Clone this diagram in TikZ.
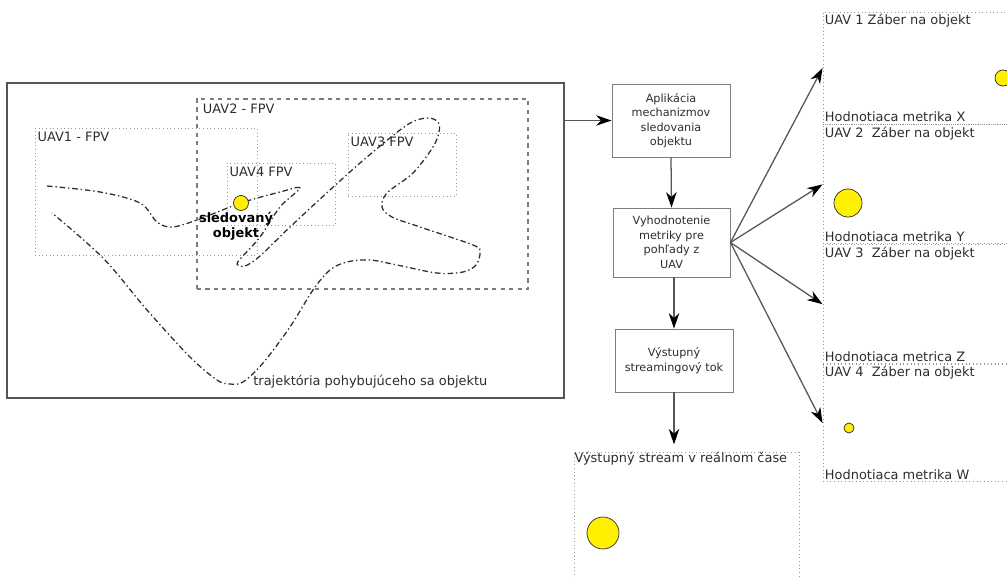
\documentclass[tikz,border=0pt]{standalone}
\usepackage{fontspec}
\setmainfont{DejaVu Sans}
\usetikzlibrary{arrows.meta, positioning}
\definecolor{DG}{RGB}{45,45,45}
\definecolor{MG}{RGB}{125,125,125}
\definecolor{LG}{RGB}{150,150,150}
\definecolor{FR}{RGB}{85,85,85}
\definecolor{YL}{RGB}{255,240,0}

\begin{document}
\begin{tikzpicture}[x=0.025cm, y=-0.025cm,
  lbl/.style={font=\fontsize{9.2}{11}\selectfont, text=DG, inner sep=1.5pt},
  fovlbl/.style={lbl, anchor=north west, inner xsep=2pt, inner ysep=3pt},
  proc/.style={draw=MG, line width=0.6pt, align=center, text=DG,
    font=\fontsize{8}{10.3}\selectfont, inner sep=0pt},
  fov/.style={draw=LG, dotted, line width=0.6pt, inner sep=0pt},
  arr/.style={-{Stealth[length=11pt, width=7.5pt, inset=3.5pt, color=black]},
    draw=FR, line width=0.9pt},
  obj/.style={circle, fill=YL, draw=DG, line width=0.5pt, inner sep=0pt},
  traj/.style={draw=DG, line width=0.9pt,
    dash pattern=on 4pt off 2pt on 1pt off 2pt}]
\useasboundingbox (0,0) rectangle (1007,578);

\node[draw=FR, line width=1.2pt, minimum width=13.925cm, minimum height=7.875cm]
  (scene) at (285.5,240.5) {};
\node[fov, minimum width=5.55cm, minimum height=3.175cm] (uav1) at (146,191.5) {};
\node[fov, draw=MG, dotted=false, dash pattern=on 3pt off 3pt, line width=0.9pt,
  minimum width=8.275cm, minimum height=4.75cm] (uav2) at (362.5,194) {};
\node[fov, minimum width=2.7cm, minimum height=1.575cm] (uav3) at (402,164.5) {};
\node[fov, minimum width=2.7cm, minimum height=1.55cm] (uav4) at (281,194) {};
\node[fovlbl] (uav1lbl) at (uav1.north west) {UAV1 - FPV};
\node[fovlbl, inner xsep=4.5pt, inner ysep=3.5pt] (uav2lbl) at (uav2.north west) {UAV2 - FPV};
\node[fovlbl] (uav3lbl) at (uav3.north west) {UAV3 FPV};
\node[fovlbl] (uav4lbl) at (uav4.north west) {UAV4 FPV};

\draw[traj] plot[smooth, tension=0.55] coordinates {
  (47,186) (100,192) (140,203) (157,222) (172,227) (197,220) (241,203)
  (280,192) (300,188) (280,207) (260,237) (242,257) (237,264) (245,266)
  (260,256) (290,227) (330,190) (367,157) (407,125) (427,118) (438,122)
  (439,132) (433,147) (413,173) (387,193) (382,207) (392,217) (420,227)
  (473,245) (480,252) (476,265) (463,272) (437,273) (397,265) (370,260)
  (347,262) (330,270) (313,290) (290,327) (263,363) (243,382) (230,384)
  (217,380) (190,357) (147,310) (103,258) (52,213)};

\node[obj, minimum size=0.375cm] (target) at (241,203) {};
\node[lbl, font=\fontsize{9.2}{10.5}\selectfont\bfseries, text=black, align=center]
  (targetlbl) at (236,226) {sledovaný\\objekt};
\node[lbl, anchor=west] (trajlbl) at (251,382) {trajektória pohybujúceho sa objektu};

\node[proc, minimum width=2.95cm, minimum height=1.825cm] (box1) at (671,120.5)
  {Aplikácia\\mechanizmov\\sledovania\\objektu};
\node[proc, minimum width=2.925cm, minimum height=1.725cm] (box2) at (671.5,242.5)
  {Vyhodnotenie\\metriky pre\\pohľady z\\UAV};
\node[proc, minimum width=2.95cm, minimum height=1.575cm] (box3) at (674,360.5)
  {Výstupný\\streamingový tok};

\node[fov, minimum width=5.625cm, minimum height=3.7cm] (stream) at (686.5,526) {};
\node[lbl, anchor=north west, inner sep=0.5pt] (streamlbl) at (stream.north west)
  {Výstupný stream v reálnom čase};
\node[obj, minimum size=0.8cm] (streamobj) at (603,533) {};

\node[fov, minimum width=5.675cm, minimum height=2.8cm] (view1) at (936.5,68) {};
\node[fov, minimum width=5.675cm, minimum height=2.975cm, below=0pt of view1] (view2) {};
\node[fov, minimum width=5.675cm, minimum height=2.975cm, below=0pt of view2] (view3) {};
\node[fov, minimum width=5.675cm, minimum height=2.925cm, below=0pt of view3] (view4) {};
\node[lbl, anchor=north west] (v1top) at (view1.north west) {UAV 1 Záber na objekt};
\node[lbl, anchor=south west] (v1bot) at (view1.south west) {Hodnotiaca metrika X};
\node[lbl, anchor=north west] (v2top) at (view2.north west) {UAV 2 \ Záber na objekt};
\node[lbl, anchor=south west] (v2bot) at (view2.south west) {Hodnotiaca metrika Y};
\node[lbl, anchor=north west] (v3top) at (view3.north west) {UAV 3 \ Záber na objekt};
\node[lbl, anchor=south west] (v3bot) at (view3.south west) {Hodnotiaca metrica Z};
\node[lbl, anchor=north west] (v4top) at (view4.north west) {UAV 4 \ Záber na objekt};
\node[lbl, anchor=south west] (v4bot) at (view4.south west) {Hodnotiaca metrika W};
\node[obj, minimum size=0.4cm] (v1obj) at (1003,78) {};
\node[obj, minimum size=0.7cm] (v2obj) at (848,203) {};
\node[obj, minimum size=0.25cm] (v4obj) at (849,428) {};

\draw[arr] (scene.east |- box1.west) -- (box1.west);
\draw[arr] (box1.south) -- (box2.north);
\draw[arr] (box2.south -| box3.north) -- (box3.north);
\draw[arr, shorten >=0.18cm] (box3.south) -- (box3.south |- stream.north);
\foreach \i in {1,...,4}
  \draw[arr] (box2.east) -- (view\i.west);
\end{tikzpicture}
\end{document}
